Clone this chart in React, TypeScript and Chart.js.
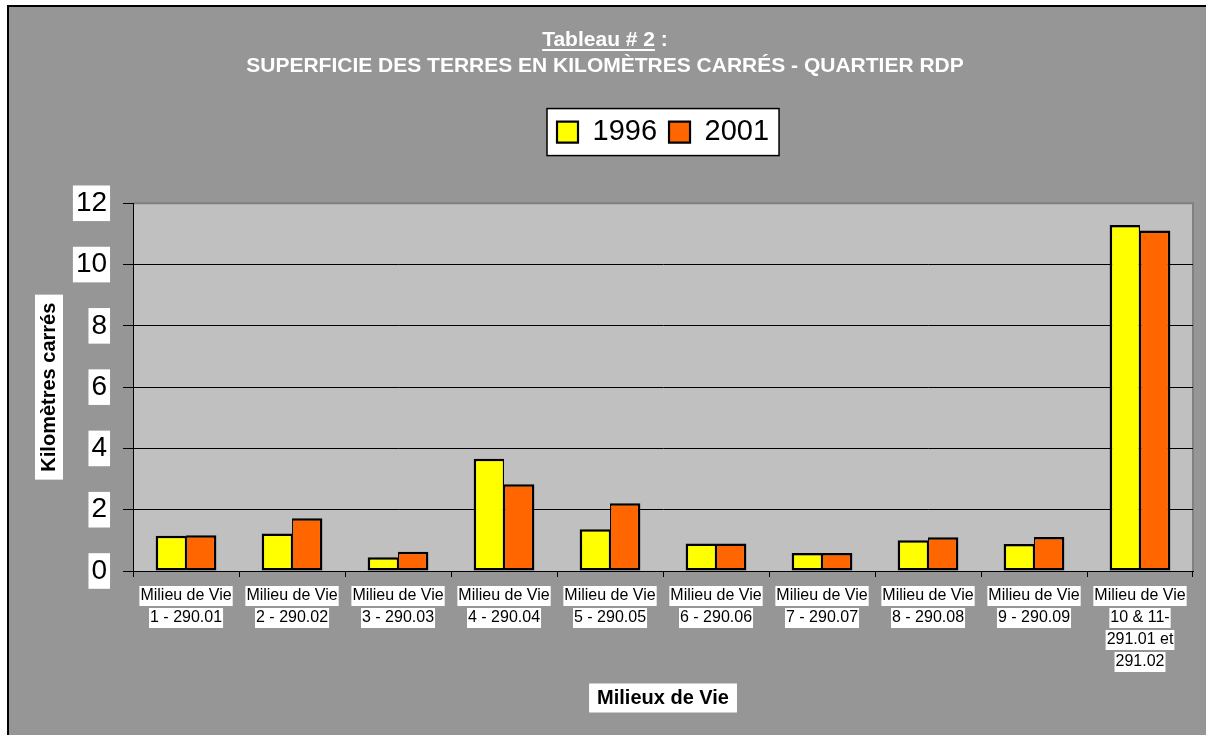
import React, { useEffect, useRef } from 'react';
import { Chart, registerables } from 'chart.js';

Chart.register(...registerables);

// ---------- data ----------
const categories: string[][] = [
  ['Milieu de Vie', '1 - 290.01'],
  ['Milieu de Vie', '2 - 290.02'],
  ['Milieu de Vie', '3 - 290.03'],
  ['Milieu de Vie', '4 - 290.04'],
  ['Milieu de Vie', '5 - 290.05'],
  ['Milieu de Vie', '6 - 290.06'],
  ['Milieu de Vie', '7 - 290.07'],
  ['Milieu de Vie', '8 - 290.08'],
  ['Milieu de Vie', '9 - 290.09'],
  ['Milieu de Vie', '10 & 11-', '291.01 et', '291.02'],
];
const seriesNames = ['1996', '2001'];
const values1996 = [1.15, 1.22, 0.45, 3.66, 1.36, 0.9, 0.59, 1.0, 0.88, 11.29];
const values2001 = [1.17, 1.72, 0.63, 2.83, 2.21, 0.9, 0.59, 1.1, 1.11, 11.11];
const yMin = 0;
const yMax = 12;
const yStep = 2;
const titleMain = 'Tableau # 2';
const titleSuffix = ' :';
const titleSub = 'SUPERFICIE DES TERRES EN KILOMÈTRES CARRÉS - QUARTIER RDP';
const xTitle = 'Milieux de Vie';
const yTitle = 'Kilomètres carrés';

// ---------- styles ----------
const W = 1206;
const H = 735;
const FONT = '"Liberation Sans", Arial, Helvetica, sans-serif';
const TITLE_SIZE = 21;
const TITLE_LH = 1.24;
const TITLE_PAD_TOP = 27.5;
const X_TICK_SIZE = 16;
const X_TICK_LH = 1.375;
const X_TICK_LEN = 6;
const X_TICK_PAD = 8;
const AXIS_TITLE_SIZE = 20;
const Y_TITLE_PAD_TOP = 20;
const LEGEND_EXTRA = 46.7;

const legendSpacer = {
  id: 'legendSpacer',
  beforeInit(chart: any) {
    const lg = chart.legend;
    if (!lg) return;
    const orig = lg.fit;
    lg.fit = function () {
      orig.call(this);
      this.height += LEGEND_EXTRA;
    };
  },
};

const backgrounds = {
  id: 'backgrounds',
  beforeDraw(chart: any) {
    const { ctx, chartArea: ca } = chart;
    ctx.save();
    // page + frame
    ctx.fillStyle = '#ffffff';
    ctx.fillRect(0, 0, W, H);
    ctx.fillStyle = '#969696';
    ctx.fillRect(7, 5, W, H);
    ctx.strokeStyle = '#000000';
    ctx.lineWidth = 2;
    ctx.strokeRect(8, 6, W + 20, H + 20);

    // plot area
    ctx.fillStyle = '#C0C0C0';
    ctx.fillRect(ca.left, ca.top, ca.right - ca.left, ca.bottom - ca.top);
    ctx.strokeStyle = '#808080';
    ctx.lineWidth = 2;
    ctx.beginPath();
    ctx.moveTo(ca.left, ca.top);
    ctx.lineTo(ca.right, ca.top);
    ctx.lineTo(ca.right, ca.bottom);
    ctx.stroke();

    // legend box
    const lg = chart.legend;
    if (lg && lg.legendHitBoxes && lg.legendHitBoxes.length) {
      const hb = lg.legendHitBoxes;
      const first = hb[0];
      const last = hb[hb.length - 1];
      const left = first.left - 10;
      const right = last.left + last.width + 10;
      const top = first.top - 9;
      const h = 47;
      ctx.fillStyle = '#ffffff';
      ctx.fillRect(left, top, right - left, h);
      ctx.strokeStyle = '#000000';
      ctx.lineWidth = 1.5;
      ctx.strokeRect(left, top, right - left, h);
    }

    // x tick label backdrops (one per line)
    const xs = chart.scales.x;
    ctx.font = `${X_TICK_SIZE}px ${FONT}`;
    ctx.fillStyle = '#ffffff';
    const lh = X_TICK_SIZE * X_TICK_LH;
    const y0 = xs.top + X_TICK_LEN + X_TICK_PAD;
    categories.forEach((lines, i) => {
      const cx = xs.getPixelForTick(i);
      lines.forEach((line, j) => {
        const cy = y0 + lh * (j + 0.5);
        const w = ctx.measureText(line).width + 2;
        ctx.fillRect(cx - w / 2, cy - 10, w, 20);
      });
    });

    // x axis title backdrop
    ctx.font = `bold ${AXIS_TITLE_SIZE}px ${FONT}`;
    const xtW = ctx.measureText(xTitle).width + 16;
    const xtY = xs.bottom - AXIS_TITLE_SIZE * 1.2 / 2;
    const xtX = (xs.left + xs.right) / 2;
    ctx.fillRect(xtX - xtW / 2, xtY - 14.5, xtW, 29);

    // y axis title backdrop
    const ys = chart.scales.y;
    const ytH = ctx.measureText(yTitle).width + 16;
    const ytX = ys.left + Y_TITLE_PAD_TOP + AXIS_TITLE_SIZE * 1.2 / 2;
    const ytY = (ys.top + ys.bottom) / 2;
    ctx.fillRect(ytX - 14, ytY - ytH / 2, 28, ytH);

    // title underline
    const tb = chart.titleBlock;
    if (tb) {
      ctx.font = `bold ${TITLE_SIZE}px ${FONT}`;
      const wMain = ctx.measureText(titleMain).width;
      const wAll = ctx.measureText(titleMain + titleSuffix).width;
      const cx = (tb.left + tb.right) / 2;
      const cy = tb.top + TITLE_PAD_TOP + (TITLE_SIZE * TITLE_LH) / 2;
      ctx.fillStyle = '#ffffff';
      ctx.fillRect(cx - wAll / 2, cy + 8.5, wMain, 2);
    }
    ctx.restore();
  },
};

export default function App() {
  const ref = useRef<HTMLCanvasElement>(null);
  useEffect(() => {
    document.body.style.margin = '0';
    const canvas = ref.current;
    if (!canvas) return;
    const chart = new Chart(canvas, {
      type: 'bar',
      data: {
        labels: categories,
        datasets: [
          {
            label: seriesNames[0],
            data: values1996,
            backgroundColor: '#FFFF00',
            borderColor: '#000000',
            borderWidth: { top: 2.5, left: 2.5, bottom: 2.5, right: 1.25 },
            borderSkipped: false,
            categoryPercentage: 0.573,
            barPercentage: 1,
          },
          {
            label: seriesNames[1],
            data: values2001,
            backgroundColor: '#FF6600',
            borderColor: '#000000',
            borderWidth: { top: 2.5, left: 1.25, bottom: 2.5, right: 2.5 },
            borderSkipped: false,
            categoryPercentage: 0.573,
            barPercentage: 1,
          },
        ],
      },
      options: {
        responsive: false,
        animation: false,
        devicePixelRatio: 1,
        layout: { padding: { top: 0, left: 17, right: 13, bottom: 25 } },
        plugins: {
          title: {
            display: true,
            text: [titleMain + titleSuffix, titleSub],
            color: '#ffffff',
            font: { family: FONT, size: TITLE_SIZE, weight: 'bold', lineHeight: TITLE_LH },
            padding: { top: TITLE_PAD_TOP, bottom: 26 },
          },
          legend: {
            display: true,
            position: 'top',
            fullSize: false,
            labels: {
              boxWidth: 21,
              boxHeight: 21,
              padding: 12,
              color: '#000000',
              font: { family: FONT, size: 29 },
            },
          },
          tooltip: { enabled: false },
        },
        scales: {
          x: {
            type: 'category',
            offset: true,
            grid: {
              display: true,
              drawOnChartArea: false,
              drawTicks: true,
              tickLength: X_TICK_LEN,
              color: '#000000',
              offset: true,
            },
            border: { color: '#000000', width: 1 },
            ticks: {
              color: '#000000',
              font: { family: FONT, size: X_TICK_SIZE, lineHeight: X_TICK_LH },
              padding: X_TICK_PAD,
              maxRotation: 0,
              minRotation: 0,
              autoSkip: false,
            },
            title: {
              display: true,
              text: xTitle,
              color: '#000000',
              font: { family: FONT, size: AXIS_TITLE_SIZE, weight: 'bold', lineHeight: 1.2 },
              padding: { top: 5, bottom: 0 },
            },
          },
          y: {
            min: yMin,
            max: yMax,
            ticks: {
              stepSize: yStep,
              color: '#000000',
              font: { family: FONT, size: 28, lineHeight: 1.2 },
              padding: 16,
              showLabelBackdrop: true,
              backdropColor: '#ffffff',
              backdropPadding: { top: 1, bottom: 1, left: 3, right: 3 },
            },
            grid: {
              color: (c: any) => (c.tick && c.tick.value === yMax ? '#808080' : '#000000'),
              tickColor: '#000000',
              tickLength: 10,
              lineWidth: 1,
            },
            border: { color: '#000000', width: 1 },
            title: {
              display: true,
              text: yTitle,
              color: '#000000',
              font: { family: FONT, size: AXIS_TITLE_SIZE, weight: 'bold', lineHeight: 1.2 },
              padding: { top: Y_TITLE_PAD_TOP, bottom: -1.1 },
            },
          },
        },
      },
      plugins: [legendSpacer, backgrounds],
    } as any);
    return () => chart.destroy();
  }, []);
  return (
    <div style={{ width: W, height: H }}>
      <canvas ref={ref} width={W} height={H} style={{ display: 'block', width: W, height: H }} />
    </div>
  );
}
